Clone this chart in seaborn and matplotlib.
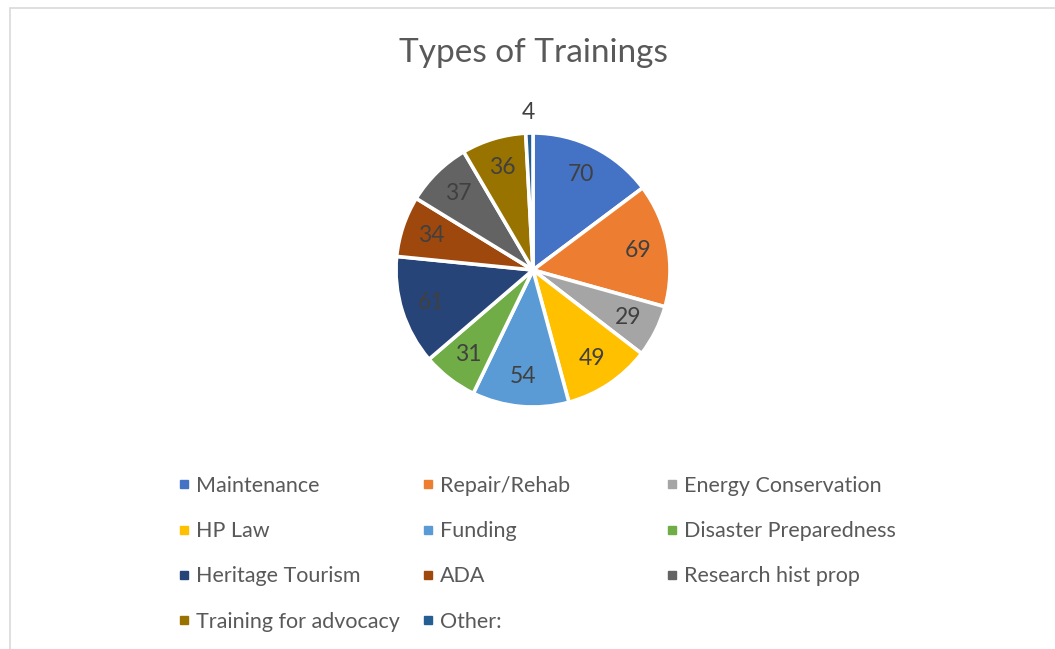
import numpy as np
import matplotlib
matplotlib.use("Agg")
import matplotlib.pyplot as plt
from matplotlib.lines import Line2D
from matplotlib.patches import Rectangle
import seaborn as sns

sns.set_theme(style="white")
plt.rcParams['font.family'] = ['Lato', 'DejaVu Sans']

categories = ["Maintenance", "Repair/Rehab", "Energy Conservation", "HP Law",
              "Funding", "Disaster Preparedness", "Heritage Tourism", "ADA",
              "Research hist prop", "Training for advocacy", "Other:"]
values = [70, 69, 29, 49, 54, 31, 61, 34, 37, 36, 4]
colors = ["#4472C4", "#ED7D31", "#A5A5A5", "#FFC000", "#5B9BD5", "#70AD47",
          "#264478", "#9E480E", "#636363", "#997300", "#255E91"]

W, H = 1055, 649
fig = plt.figure(figsize=(W / 100, H / 100), dpi=100)
fig.patch.set_facecolor("white")

# chart frame (top and left visible)
fig.add_artist(Rectangle((10 / W, -0.1), 1.2, 1.1 - 8 / H, transform=fig.transFigure,
                         fill=False, edgecolor="#D9D9D9", linewidth=1.2, clip_on=False))

cx, cy, r = 533, H - 270, 137
side = 2.5 * r
ax = fig.add_axes([(cx - side / 2) / W, (cy - side / 2) / H, side / W, side / H])
wedges, _ = ax.pie(values, colors=colors, startangle=90, counterclock=False,
                   wedgeprops=dict(edgecolor="white", linewidth=2.6))
ax.set_xlim(-1.25, 1.25)
ax.set_ylim(-1.25, 1.25)
ax.set_aspect("equal")

for w, v in zip(wedges, values):
    ang = np.deg2rad((w.theta1 + w.theta2) / 2)
    d = 0.78 if v > 10 else 1.15
    ax.text(d * np.cos(ang), d * np.sin(ang), str(v), ha="center", va="center",
            fontsize=16.5, color="#404040")

fig.text(cx / W, 1 - 53 / H, "Types of Trainings", ha="center", va="center",
         fontsize=24, color="#595959")

# legend: three columns of equal width, row by row
col_x = [180, 424, 668]
for c in range(3):
    idx = list(range(c, len(categories), 3))
    handles = [Line2D([], [], marker="s", linestyle="", markersize=6,
                      markerfacecolor=colors[i], markeredgecolor=colors[i])
               for i in idx]
    leg = fig.legend(handles, [categories[i] for i in idx], loc="upper left",
                     bbox_to_anchor=(col_x[c] / W, 1 - 476 / H), frameon=False,
                     fontsize=15.5, labelcolor="#595959", handlelength=0.4,
                     handletextpad=0.35, labelspacing=1.17, borderpad=0,
                     borderaxespad=0)

fig.savefig("out.png", dpi=100, facecolor="white")
